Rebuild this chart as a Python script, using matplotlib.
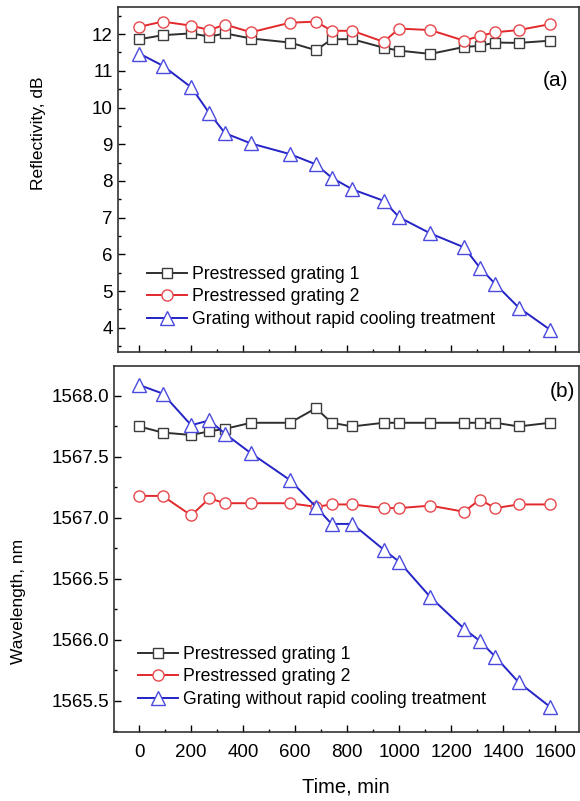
import numpy as np
import matplotlib
matplotlib.use("Agg")
import matplotlib.pyplot as plt
from matplotlib.ticker import MultipleLocator

plt.rcParams['font.family'] = ['Liberation Sans', 'DejaVu Sans']

# time points (min), shared by both panels
time_min = [0, 90, 200, 270, 330, 430, 580, 680, 740, 820,
            940, 1000, 1120, 1250, 1310, 1370, 1460, 1580]

# (a) reflectivity, dB
refl_g1 = [11.86, 11.97, 12.02, 11.93, 12.02, 11.88, 11.77, 11.56, 11.86, 11.86,
           11.63, 11.55, 11.46, 11.65, 11.68, 11.77, 11.76, 11.82]
refl_g2 = [12.20, 12.34, 12.23, 12.11, 12.26, 12.05, 12.31, 12.34, 12.09, 12.09,
           11.79, 12.15, 12.11, 11.82, 11.95, 12.05, 12.11, 12.27]
refl_nocool = [11.47, 11.14, 10.55, 9.84, 9.30, 9.02, 8.73, 8.45, 8.09, 7.77,
               7.46, 7.01, 6.57, 6.19, 5.64, 5.19, 4.55, 3.95]

# (b) wavelength, nm
wl_g1 = [1567.75, 1567.70, 1567.68, 1567.71, 1567.73, 1567.78, 1567.78, 1567.90, 1567.78, 1567.75,
         1567.78, 1567.78, 1567.78, 1567.78, 1567.78, 1567.78, 1567.75, 1567.78]
wl_g2 = [1567.18, 1567.18, 1567.02, 1567.16, 1567.12, 1567.12, 1567.12, 1567.09, 1567.11, 1567.11,
         1567.08, 1567.08, 1567.10, 1567.05, 1567.15, 1567.08, 1567.11, 1567.11]
wl_nocool = [1568.09, 1568.02, 1567.76, 1567.80, 1567.69, 1567.53, 1567.31, 1567.09, 1566.95, 1566.95,
             1566.74, 1566.64, 1566.35, 1566.09, 1565.99, 1565.86, 1565.65, 1565.45]

labels = ["Prestressed grating 1", "Prestressed grating 2",
          "Grating without rapid cooling treatment"]

W, H = 580, 801
fig = plt.figure(figsize=(W / 100, H / 100), dpi=100)


def px_axes(l, t, r, b):
    # axes from pixel box (left, top, right, bottom)
    return fig.add_axes([l / W, 1 - b / H, (r - l) / W, (b - t) / H])


ax1 = px_axes(117.5, 7.3, 579, 352)
ax2 = px_axes(114, 366, 579, 731.7)

styles = [
    dict(color="#2e2e2e", marker="s", ms=7.2, mfc="white", mec="#3c3c3c"),
    dict(color="#e3282c", marker="o", ms=8.0, mfc="white", mec="#e8474b"),
    dict(color="#2323c6", marker="^", ms=10.0, mfc="white", mec="#4a4ae0"),
]

for ax, series in [(ax1, [refl_g1, refl_g2, refl_nocool]),
                   (ax2, [wl_g1, wl_g2, wl_nocool])]:
    for y, st, lab in zip(series, styles, labels):
        ax.plot(time_min, y, lw=1.4, mew=1.0, label=lab, **st)
    ax.tick_params(which="both", direction="in", top=False, right=False,
                   labelsize=13.5, width=1.0)
    ax.tick_params(which="major", length=5)
    ax.tick_params(which="minor", length=2.5)
    ax.xaxis.set_major_locator(MultipleLocator(200))
    ax.xaxis.set_minor_locator(MultipleLocator(100))
    for sp in ax.spines.values():
        sp.set_color("#333333")
        sp.set_linewidth(1.2)

ax1.set_xlim(-84, 1692)
ax1.set_ylim(3.34, 12.73)
ax1.yaxis.set_major_locator(MultipleLocator(1))
ax1.yaxis.set_minor_locator(MultipleLocator(0.5))
ax1.tick_params(axis="x", labelbottom=False)

ax2.set_xlim(-97, 1692)
ax2.set_ylim(1565.245, 1568.246)
ax2.yaxis.set_major_locator(MultipleLocator(0.5))
ax2.yaxis.set_minor_locator(MultipleLocator(0.25))
ax2.yaxis.set_major_formatter(matplotlib.ticker.FormatStrFormatter("%.1f"))
ax2.tick_params(axis="x", pad=9)

leg_kw = dict(frameon=False, fontsize=12.7, handlelength=2.25, handletextpad=0.3,
              labelspacing=0.31, borderaxespad=0, borderpad=0)
ax1.legend(loc="upper left", bbox_to_anchor=((147 - 117.5) / 461.5, (352 - 266) / 344.7), **leg_kw)
ax2.legend(loc="upper left", bbox_to_anchor=((138 - 114) / 465, (731.7 - 646) / 365.7), **leg_kw)

ax1.text(556 / W, 1 - 80 / H, "(a)", transform=fig.transFigure, fontsize=15,
         ha="center", va="center")
ax2.text(562 / W, 1 - 391 / H, "(b)", transform=fig.transFigure, fontsize=15,
         ha="center", va="center")

fig.text(38 / W, 1 - 133.5 / H, "Reflectivity, dB", rotation=90, fontsize=12.5,
         ha="center", va="center")
fig.text(19 / W, 1 - 601.5 / H, "Wavelength, nm", rotation=90, fontsize=12.5,
         ha="center", va="center")
fig.text(346 / W, 1 - 787 / H, "Time, min", fontsize=14.5, ha="center", va="center")

fig.savefig("out.png", dpi=100)
